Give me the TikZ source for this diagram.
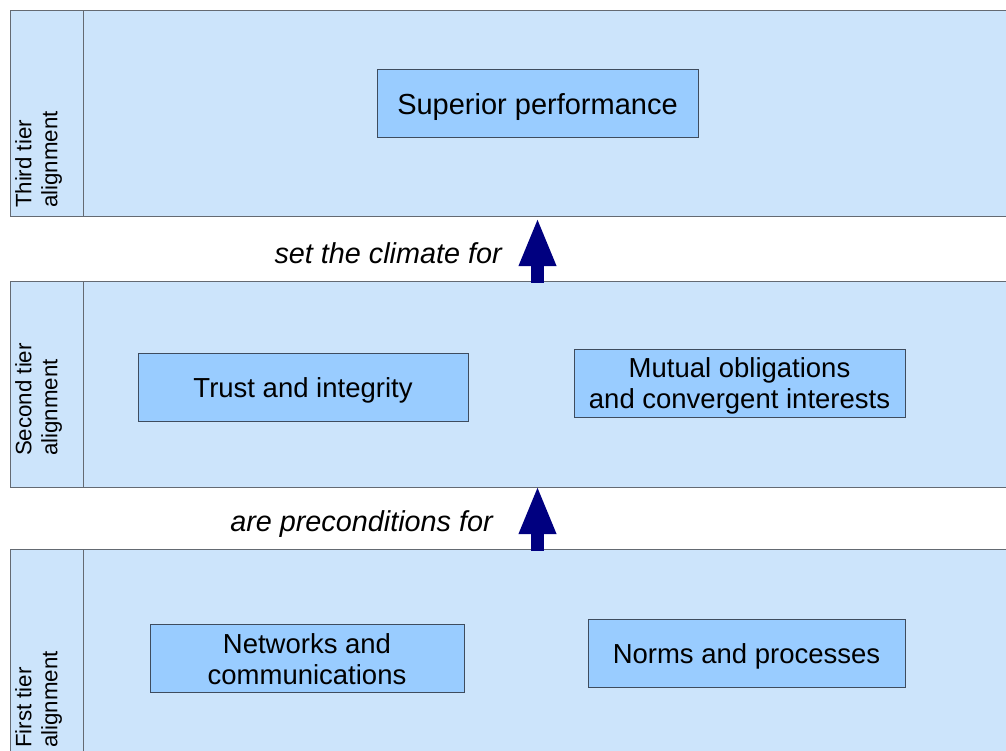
\documentclass[tikz,border=0pt]{standalone}
\usepackage{fontspec}
\setmainfont{Liberation Sans}
\usepackage{xcolor}
\usepackage{tikz}
\usetikzlibrary{calc, positioning, arrows.meta}

\definecolor{bandblue}{HTML}{CCE4FB}
\definecolor{boxblue}{HTML}{99CCFF}
\definecolor{boxline}{HTML}{3E4C5E}
\definecolor{bandline}{HTML}{646A72}
\definecolor{arrownavy}{HTML}{000080}

\tikzset{
  band/.style={rectangle, draw=bandline, line width=1.2pt, fill=bandblue,
    inner sep=0pt, minimum height=206pt, anchor=north west},
  tag/.style={rotate=90, anchor=north west, align=left, inner sep=0pt,
    font=\fontsize{22.3}{26}\selectfont},
  item/.style={rectangle, draw=boxline, line width=1pt, fill=boxblue,
    minimum height=68pt, align=center, text depth=-1.2pt,
    font=\fontsize{27.5}{31}\selectfont},
  note/.style={anchor=east, inner sep=0pt, font=\fontsize{28.8}{31}\selectfont\itshape},
  lift/.style={draw=arrownavy, line width=13pt, -{Triangle[width=34pt, length=49pt]}},
}

\begin{document}
\begin{tikzpicture}[x=1pt, y=1pt]
    \clip (0,0) rectangle (1006,751);
    \fill[white] (0,0) rectangle (1006,751);

    % 1. Ba tầng nền
    \node[band, minimum width=1010pt] (tier3) at (10,741) {};
    \node[band, minimum width=73pt] (tag3) at (tier3.north west) {};
    \node[band, minimum width=1010pt] (tier2) at (10,470) {};
    \node[band, minimum width=73pt] (tag2) at (tier2.north west) {};
    \node[band, minimum width=1010pt] (tier1) at (10,202) {};
    \node[band, minimum width=73pt] (tag1) at (tier1.north west) {};

    % 2. Nhãn dọc bên trái
    \node[tag] (tag3text) at ($(tag3.south west)+(5,9)$) {Third tier\\alignment};
    \node[tag] (tag2text) at ($(tag2.south west)+(5,32)$) {Second tier\\alignment};
    \node[tag] (tag1text) at ($(tag1.south west)+(5,8)$) {First tier\\alignment};

    % 3. Các ô nội dung
    \node[item, minimum width=321pt, font=\fontsize{29}{31}\selectfont, text depth=-0.6pt]
        (sup) at (537.5,647) {Superior performance};
    \node[item, minimum width=330pt] (trust) at (303,363.5) {Trust and integrity};
    \node[item, minimum width=331pt, text depth=-3pt] (mutual) at (739.5,367.5)
        {Mutual obligations\\and convergent interests};
    \node[item, minimum width=314pt, text depth=-5.5pt] (net) at (307,92)
        {Networks and\\communications};
    \node[item, minimum width=317pt] (norms) at (746.5,97) {Norms and processes};

    % 4. Mũi tên giữa các tầng
    \draw[lift] ($(tier2.north -| sup.south)+(0,-2)$) -- (tier3.south -| sup.south);
    \draw[lift] ($(tier1.north -| sup.south)+(0,-2)$) -- ($(tier2.south -| sup.south)+(0,3)$);
    \node[note] (climate) at (502,498) {set the climate for};
    \node[note] (precond) at (493,227) {are preconditions for};

\end{tikzpicture}
\end{document}
